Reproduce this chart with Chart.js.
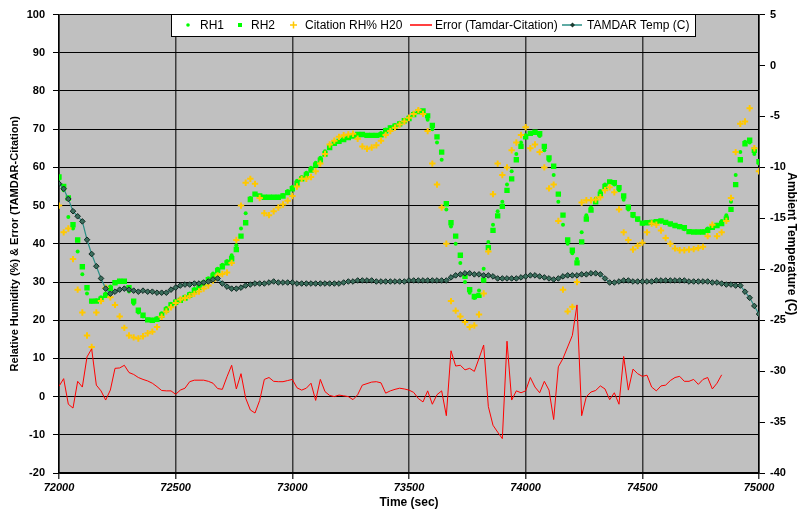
<!DOCTYPE html>
<html>
<head>
<meta charset="utf-8">
<script src="https://cdn.jsdelivr.net/npm/chart.js@4.4.1/dist/chart.umd.min.js"></script>
<style>
  html, body { margin: 0; padding: 0; background: #fff; }
  #wrap { width: 801px; height: 512px; }
</style>
</head>
<body>
<div id="wrap"><canvas id="chart" width="801" height="512"></canvas></div>
<script>
// Sample times (s), one every 20 s
const times = [
  72000, 72020, 72040, 72060, 72080, 72100, 72120, 72140, 72160, 72180,
  72200, 72220, 72240, 72260, 72280, 72300, 72320, 72340, 72360, 72380,
  72400, 72420, 72440, 72460, 72480, 72500, 72520, 72540, 72560, 72580,
  72600, 72620, 72640, 72660, 72680, 72700, 72720, 72740, 72760, 72780,
  72800, 72820, 72840, 72860, 72880, 72900, 72920, 72940, 72960, 72980,
  73000, 73020, 73040, 73060, 73080, 73100, 73120, 73140, 73160, 73180,
  73200, 73220, 73240, 73260, 73280, 73300, 73320, 73340, 73360, 73380,
  73400, 73420, 73440, 73460, 73480, 73500, 73520, 73540, 73560, 73580,
  73600, 73620, 73640, 73660, 73680, 73700, 73720, 73740, 73760, 73780,
  73800, 73820, 73840, 73860, 73880, 73900, 73920, 73940, 73960, 73980,
  74000, 74020, 74040, 74060, 74080, 74100, 74120, 74140, 74160, 74180,
  74200, 74220, 74240, 74260, 74280, 74300, 74320, 74340, 74360, 74380,
  74400, 74420, 74440, 74460, 74480, 74500, 74520, 74540, 74560, 74580,
  74600, 74620, 74640, 74660, 74680, 74700, 74720, 74740, 74760, 74780,
  74800, 74820, 74840, 74860, 74880, 74900, 74920, 74940, 74960, 74980,
  75000
]

const rh1 = [
  57, 54, 47, 44, 38, 32, 27, 24.8, 25.2, 26,
  27, 28.8, 30, 30.3, 30, 27.5, 24.3, 22, 21, 20.2,
  20.1, 20.6, 21.8, 23.2, 24.3, 25, 25.5, 26.2, 27, 28.2,
  29, 30, 31, 32.2, 33.5, 34.5, 35.5, 37, 39.6, 44,
  48, 52, 53.1, 52.4, 52.2, 52.2, 52.2, 52.3, 52.8, 53.8,
  54.9, 56.5, 57.5, 58.6, 59.9, 61.2, 62.5, 64.2, 65.8, 66.5,
  67, 67.5, 68, 68.4, 68.7, 68.5, 68.4, 68.4, 68.5, 69,
  69.9, 70.5, 71.1, 71.7, 72.5, 73.2, 74.2, 74.9, 74.4, 72.5,
  70, 66.5, 62, 49, 44.5, 40, 35, 30, 27.2, 25.8,
  27.8, 33.5, 40.5, 45, 48.5, 51, 55.5, 59, 63.5, 66.5,
  68.4, 69, 69, 68.2, 64.5, 61.8, 58, 51, 45, 40,
  37.5, 36, 43, 47.5, 49.5, 51.8, 53.8, 55.5, 56.2, 55.5,
  54, 51.5, 49, 47.2, 46.2, 45.3, 45.6, 45.8, 46, 45.8,
  45.4, 45, 44.6, 44.3, 43.8, 43.1, 43.1, 43.1, 43.3, 44,
  44.6, 45, 46, 47.5, 51, 58, 64, 66.7, 66.5, 63.5,
  61
]

const rh2 = [
  57.5, 55, 52, 45, 41, 34, 28.5, 25, 25, 25.5,
  26.5, 28.3, 29.8, 30.2, 30.2, 28.5, 25, 22.6, 21.3, 20.1,
  20, 20.2, 21.3, 22.7, 24, 24.7, 25.2, 25.8, 26.6, 27.8,
  28.6, 29.6, 30.6, 31.6, 33, 34, 35, 36.1, 38.5, 42,
  45.5, 51.6, 53, 52.5, 52.2, 52.2, 52.2, 52.2, 52.5, 53.4,
  54.4, 55.8, 57, 58, 59.3, 60.6, 61.9, 63.5, 65.2, 66.3,
  66.8, 67.3, 67.8, 68.2, 68.6, 68.6, 68.4, 68.4, 68.4, 68.5,
  69.6, 70.3, 70.8, 71.4, 72.2, 72.8, 73.8, 74.6, 74.8, 73.5,
  71, 68, 64, 50.5, 45.5, 42, 37, 31.5, 28, 26.2,
  26.5, 30.5, 39, 43.5, 47.3, 49.8, 54, 57, 62, 65.5,
  68, 68.9, 69.2, 68.8, 65.5, 62.5, 60.3, 53, 47.5, 41,
  38.3, 35, 40.5, 46.5, 48.8, 51, 53, 55, 56.2, 56,
  54.7, 52.5, 49.6, 47.6, 46.5, 45.4, 45.5, 45.6, 45.8, 46,
  45.6, 45.2, 44.8, 44.5, 44.2, 43.2, 43.1, 43.1, 43.1, 43.5,
  44.3, 44.8, 45.3, 46.5, 49, 55.5, 62, 66.2, 67.1, 64.5,
  61.5
]

const citationRh = [
  50, 43, 44, 36, 28, 22, 16, 13, 22, 25,
  28.5, 26, 24, 21, 18, 16, 15.5, 15.2, 15.8, 16.6,
  17, 18.2, 20.9, 22.3, 23.4, 24.5, 25.4, 25.8, 26.3, 26.9,
  27.5, 28.3, 29.1, 30.4, 31.7, 32.1, 32.5, 35, 41, 50,
  56, 57, 55.7, 52, 48, 47.5, 48.5, 49.5, 50.3, 51.3,
  52.5, 55, 57, 57, 57.5, 59, 61, 63.5, 66, 67,
  68, 68.4, 68.6, 68.8, 67.5, 65.5, 64.9, 65.2, 65.8, 67,
  68.5, 69.5, 70.4, 71.2, 72, 73, 74, 75, 74, 69.5,
  61, 55.5, 49.5, 40, 25, 22.5, 21, 19.5, 18.2, 18.6,
  21.5, 27, 38, 53, 61, 58, 60, 64.5, 66.5, 68.5,
  70.5, 65, 66, 64, 60, 54.5, 55.5, 46, 28, 22.3,
  23.5, 30, 50.8, 51.4, 51.4, 51.6, 52.2, 54, 54.8, 53.5,
  49, 43, 41, 38.5, 39.5, 40.3, 43, 45.3, 45, 43.5,
  41.5, 40, 38.8, 38.3, 38.3, 38.5, 38.6, 38.9, 39.2, 42,
  45, 42, 43, 46, 52, 64, 71.4, 72, 75.5, 65,
  59
]

const errorRh = [
  2.7, 4.7, -2, -3, 4, 2.5, 10.4, 12.5, 3, 1.5,
  -0.9, 1.7, 7.4, 7.5, 8.2, 6.3, 5.8, 5, 4.5, 4.1,
  3.5, 2.6, 1.6, 1.5, 1.5, 0.6, 1.7, 2.2, 3.9, 4.3,
  4.3, 4.3, 4, 3.5, 2.1, 1.9, 5.2, 8.2, 2, 6,
  -0.4, -3.5, -4.3, -1, 4.5, 5, 4, 3.9, 3.9, 4.2,
  4.5, 2.3, 1.7, 2.2, 3.5, -1, 4.5, 1.3, 0.3, 0,
  0.4, 0.2, 0, -0.8, 0.5, 3, 3.4, 3.8, 3.9, 3.6,
  0.9, 1.5, 1.9, 2.2, 2, 1.7, 1.1, -0.5, -1.4, 1.5,
  -2, 0.5, 1.5, -5, 12, 8, 8.2, 7, 7.4, 6.6,
  10, 13.5, -2.6, -7.5, -9.3, -11, 14.5, -0.9, 1.5, 1,
  1.5, 5, 2.5, 1, 4, 1.7, -6, 7.8, 10, 13,
  16, 24, -5, 0, 1.2, 1.6, 2.8, 2, -0.8, 1,
  -2, 10.5, 1.7, 7.2, 6, 5.3, 5.6, 2.5, 1.5, 2.8,
  3, 4.2, 5, 5.3, 4, 4, 4.5, 3.2, 4.5, 5,
  2, 3.5, 5.7, null, null, null, null, null, null, null,
  null
]

const tamdarTemp = [
  -11.6, -12.1, -13.1, -14.3, -14.8, -15.3, -17.1, -18.5, -19.7, -20.9,
  -21.9, -22.4, -22.2, -22.0, -21.9, -22.0, -22.1, -22.2, -22.1, -22.2,
  -22.2, -22.3, -22.3, -22.3, -22.0, -21.8, -21.6, -21.5, -21.5, -21.4,
  -21.4, -21.3, -21.2, -21.0, -20.9, -21.4, -21.7, -21.9, -21.9, -21.8,
  -21.6, -21.5, -21.4, -21.4, -21.4, -21.3, -21.2, -21.3, -21.3, -21.3,
  -21.3, -21.4, -21.4, -21.4, -21.4, -21.4, -21.4, -21.4, -21.4, -21.4,
  -21.4, -21.3, -21.2, -21.2, -21.1, -21.1, -21.1, -21.1, -21.2, -21.2,
  -21.2, -21.2, -21.2, -21.2, -21.2, -21.1, -21.1, -21.1, -21.1, -21.1,
  -21.1, -21.1, -21.1, -21.1, -20.8, -20.6, -20.5, -20.4, -20.4, -20.5,
  -20.5, -20.6, -20.6, -20.7, -20.9, -20.9, -20.9, -20.9, -20.9, -20.8,
  -20.7, -20.6, -20.6, -20.7, -20.8, -20.9, -21.0, -20.9, -20.7, -20.6,
  -20.6, -20.6, -20.5, -20.5, -20.4, -20.4, -20.5, -20.9, -21.3, -21.3,
  -21.2, -21.1, -21.1, -21.2, -21.2, -21.2, -21.2, -21.2, -21.1, -21.1,
  -21.1, -21.1, -21.1, -21.1, -21.1, -21.2, -21.2, -21.2, -21.2, -21.2,
  -21.3, -21.3, -21.4, -21.5, -21.5, -21.6, -21.6, -22.2, -22.8, -23.6,
  -24.4
]

const FONT = "'Liberation Sans', Arial, sans-serif"
const GREEN = '#00ff00'
const ORANGE = '#ffc800'
const RED = '#ff0000'
const TEAL = '#2a8f86'

const toPoints = vals => times.map((t, i) => ({ x: t, y: vals[i] }))

// grey plot area, like the spreadsheet chart
const plotBackground = {
    id: 'plotBackground',
    beforeDraw(chart) {
        const { ctx, chartArea: a } = chart
        ctx.save()
        ctx.fillStyle = '#fff'
        ctx.fillRect(0, 0, chart.width, chart.height)
        ctx.fillStyle = '#c0c0c0'
        ctx.fillRect(a.left, a.top, a.right - a.left, a.bottom - a.top)
        ctx.restore()
    }
}

// boxed legend sitting on top of the plot
const legendBox = {
    id: 'legendBox',
    afterDraw(chart) {
        const { ctx } = chart
        const y = 25
        ctx.save()
        ctx.fillStyle = '#fff'
        ctx.fillRect(171, 14, 525, 23)
        ctx.strokeStyle = '#000'
        ctx.lineWidth = 1
        ctx.strokeRect(171.5, 14.5, 524, 22)

        ctx.fillStyle = GREEN
        ctx.beginPath()
        ctx.arc(188, y, 1.8, 0, Math.PI * 2)
        ctx.fill()
        ctx.fillRect(238, y - 2, 4, 4)

        ctx.strokeStyle = ORANGE
        ctx.lineWidth = 1.5
        ctx.beginPath()
        ctx.moveTo(290, y); ctx.lineTo(297, y)
        ctx.moveTo(293.5, y - 3.5); ctx.lineTo(293.5, y + 3.5)
        ctx.stroke()

        ctx.strokeStyle = RED
        ctx.lineWidth = 1.5
        ctx.beginPath()
        ctx.moveTo(410, y); ctx.lineTo(432, y)
        ctx.stroke()

        ctx.strokeStyle = TEAL
        ctx.beginPath()
        ctx.moveTo(562, y); ctx.lineTo(582, y)
        ctx.stroke()
        ctx.fillStyle = '#1d3b30'
        ctx.beginPath()
        ctx.moveTo(572.5, y - 2.5); ctx.lineTo(575, y); ctx.lineTo(572.5, y + 2.5); ctx.lineTo(570, y)
        ctx.closePath()
        ctx.fill()

        ctx.fillStyle = '#000'
        ctx.font = `12px ${FONT}`
        ctx.textBaseline = 'middle'
        ctx.fillText('RH1', 200, y + 0.5)
        ctx.fillText('RH2', 251, y + 0.5)
        ctx.fillText('Citation RH% H20', 305, y + 0.5)
        ctx.fillText('Error (Tamdar-Citation)', 435, y + 0.5)
        ctx.fillText('TAMDAR Temp (C)', 587, y + 0.5)
        ctx.restore()
    }
}

const tickFont = { family: FONT, size: 11, weight: 'bold' }
const titleFont = { family: FONT, size: 12, weight: 'bold' }

new Chart(document.getElementById('chart'), {
    type: 'line',
    data: {
        datasets: [
            {
                label: 'TAMDAR Temp (C)',
                data: toPoints(tamdarTemp),
                yAxisID: 'yT',
                borderColor: TEAL,
                borderWidth: 1.2,
                pointStyle: 'rectRot',
                pointRadius: 2.8,
                pointBackgroundColor: '#3b6e5c',
                pointBorderColor: '#0f2a22',
                pointBorderWidth: 1,
                order: 0
            },
            {
                label: 'Error (Tamdar-Citation)',
                data: toPoints(errorRh),
                yAxisID: 'y',
                borderColor: RED,
                borderWidth: 1,
                pointRadius: 0,
                spanGaps: false,
                order: 1
            },
            {
                label: 'Citation RH% H20',
                data: toPoints(citationRh),
                yAxisID: 'y',
                showLine: false,
                pointStyle: 'cross',
                pointRadius: 3.2,
                pointBorderColor: ORANGE,
                pointBorderWidth: 2,
                borderColor: ORANGE,
                order: 2
            },
            {
                label: 'RH2',
                data: toPoints(rh2),
                yAxisID: 'y',
                showLine: false,
                pointStyle: 'rect',
                pointRadius: 3.8,
                pointBackgroundColor: GREEN,
                pointBorderColor: GREEN,
                pointBorderWidth: 0,
                borderColor: GREEN,
                order: 3
            },
            {
                label: 'RH1',
                data: toPoints(rh1),
                yAxisID: 'y',
                showLine: false,
                pointStyle: 'circle',
                pointRadius: 2,
                pointBackgroundColor: GREEN,
                pointBorderColor: GREEN,
                pointBorderWidth: 0,
                borderColor: GREEN,
                order: 4
            }
        ]
    },
    options: {
        responsive: false,
        animation: false,
        layout: { padding: { top: 14, left: 0, right: 0, bottom: 0 } },
        plugins: {
            legend: { display: false },
            tooltip: { enabled: false }
        },
        scales: {
            x: {
                type: 'linear',
                min: 72000,
                max: 75000,
                ticks: {
                    stepSize: 500,
                    color: '#000',
                    padding: 2,
                    maxRotation: 0,
                    font: { ...tickFont, style: 'italic' },
                    callback: v => String(v)
                },
                grid: { color: '#3c3c3c', lineWidth: 1.5, tickLength: 6 },
                border: { color: '#000', width: 1.5 },
                title: { display: true, text: 'Time (sec)', color: '#000', font: titleFont, padding: { top: 0, bottom: 2 } },
                afterFit: s => { s.height = 39 }
            },
            y: {
                position: 'left',
                min: -20,
                max: 100,
                ticks: { stepSize: 10, color: '#000', padding: 8, font: tickFont },
                grid: { color: '#000', lineWidth: 1, tickLength: 6 },
                border: { color: '#000', width: 1.5 },
                title: {
                    display: true,
                    text: 'Relative Humidity (%) & Error (TAMDAR-Citation)',
                    color: '#000',
                    font: { ...titleFont, size: 11 },
                    padding: { top: 8, bottom: 0 }
                },
                afterFit: s => { s.width = 59 }
            },
            yT: {
                position: 'right',
                min: -40,
                max: 5,
                ticks: { stepSize: 5, color: '#000', padding: 5, font: tickFont },
                grid: { drawOnChartArea: false, color: '#000', tickLength: 6 },
                border: { color: '#000', width: 1.5 },
                title: {
                    display: true,
                    text: 'Ambient Temperature (C)',
                    color: '#000',
                    font: titleFont,
                    padding: { top: 2, bottom: 0 }
                },
                afterFit: s => { s.width = 42 }
            }
        }
    },
    plugins: [plotBackground, legendBox]
})
</script>
</body>
</html>
